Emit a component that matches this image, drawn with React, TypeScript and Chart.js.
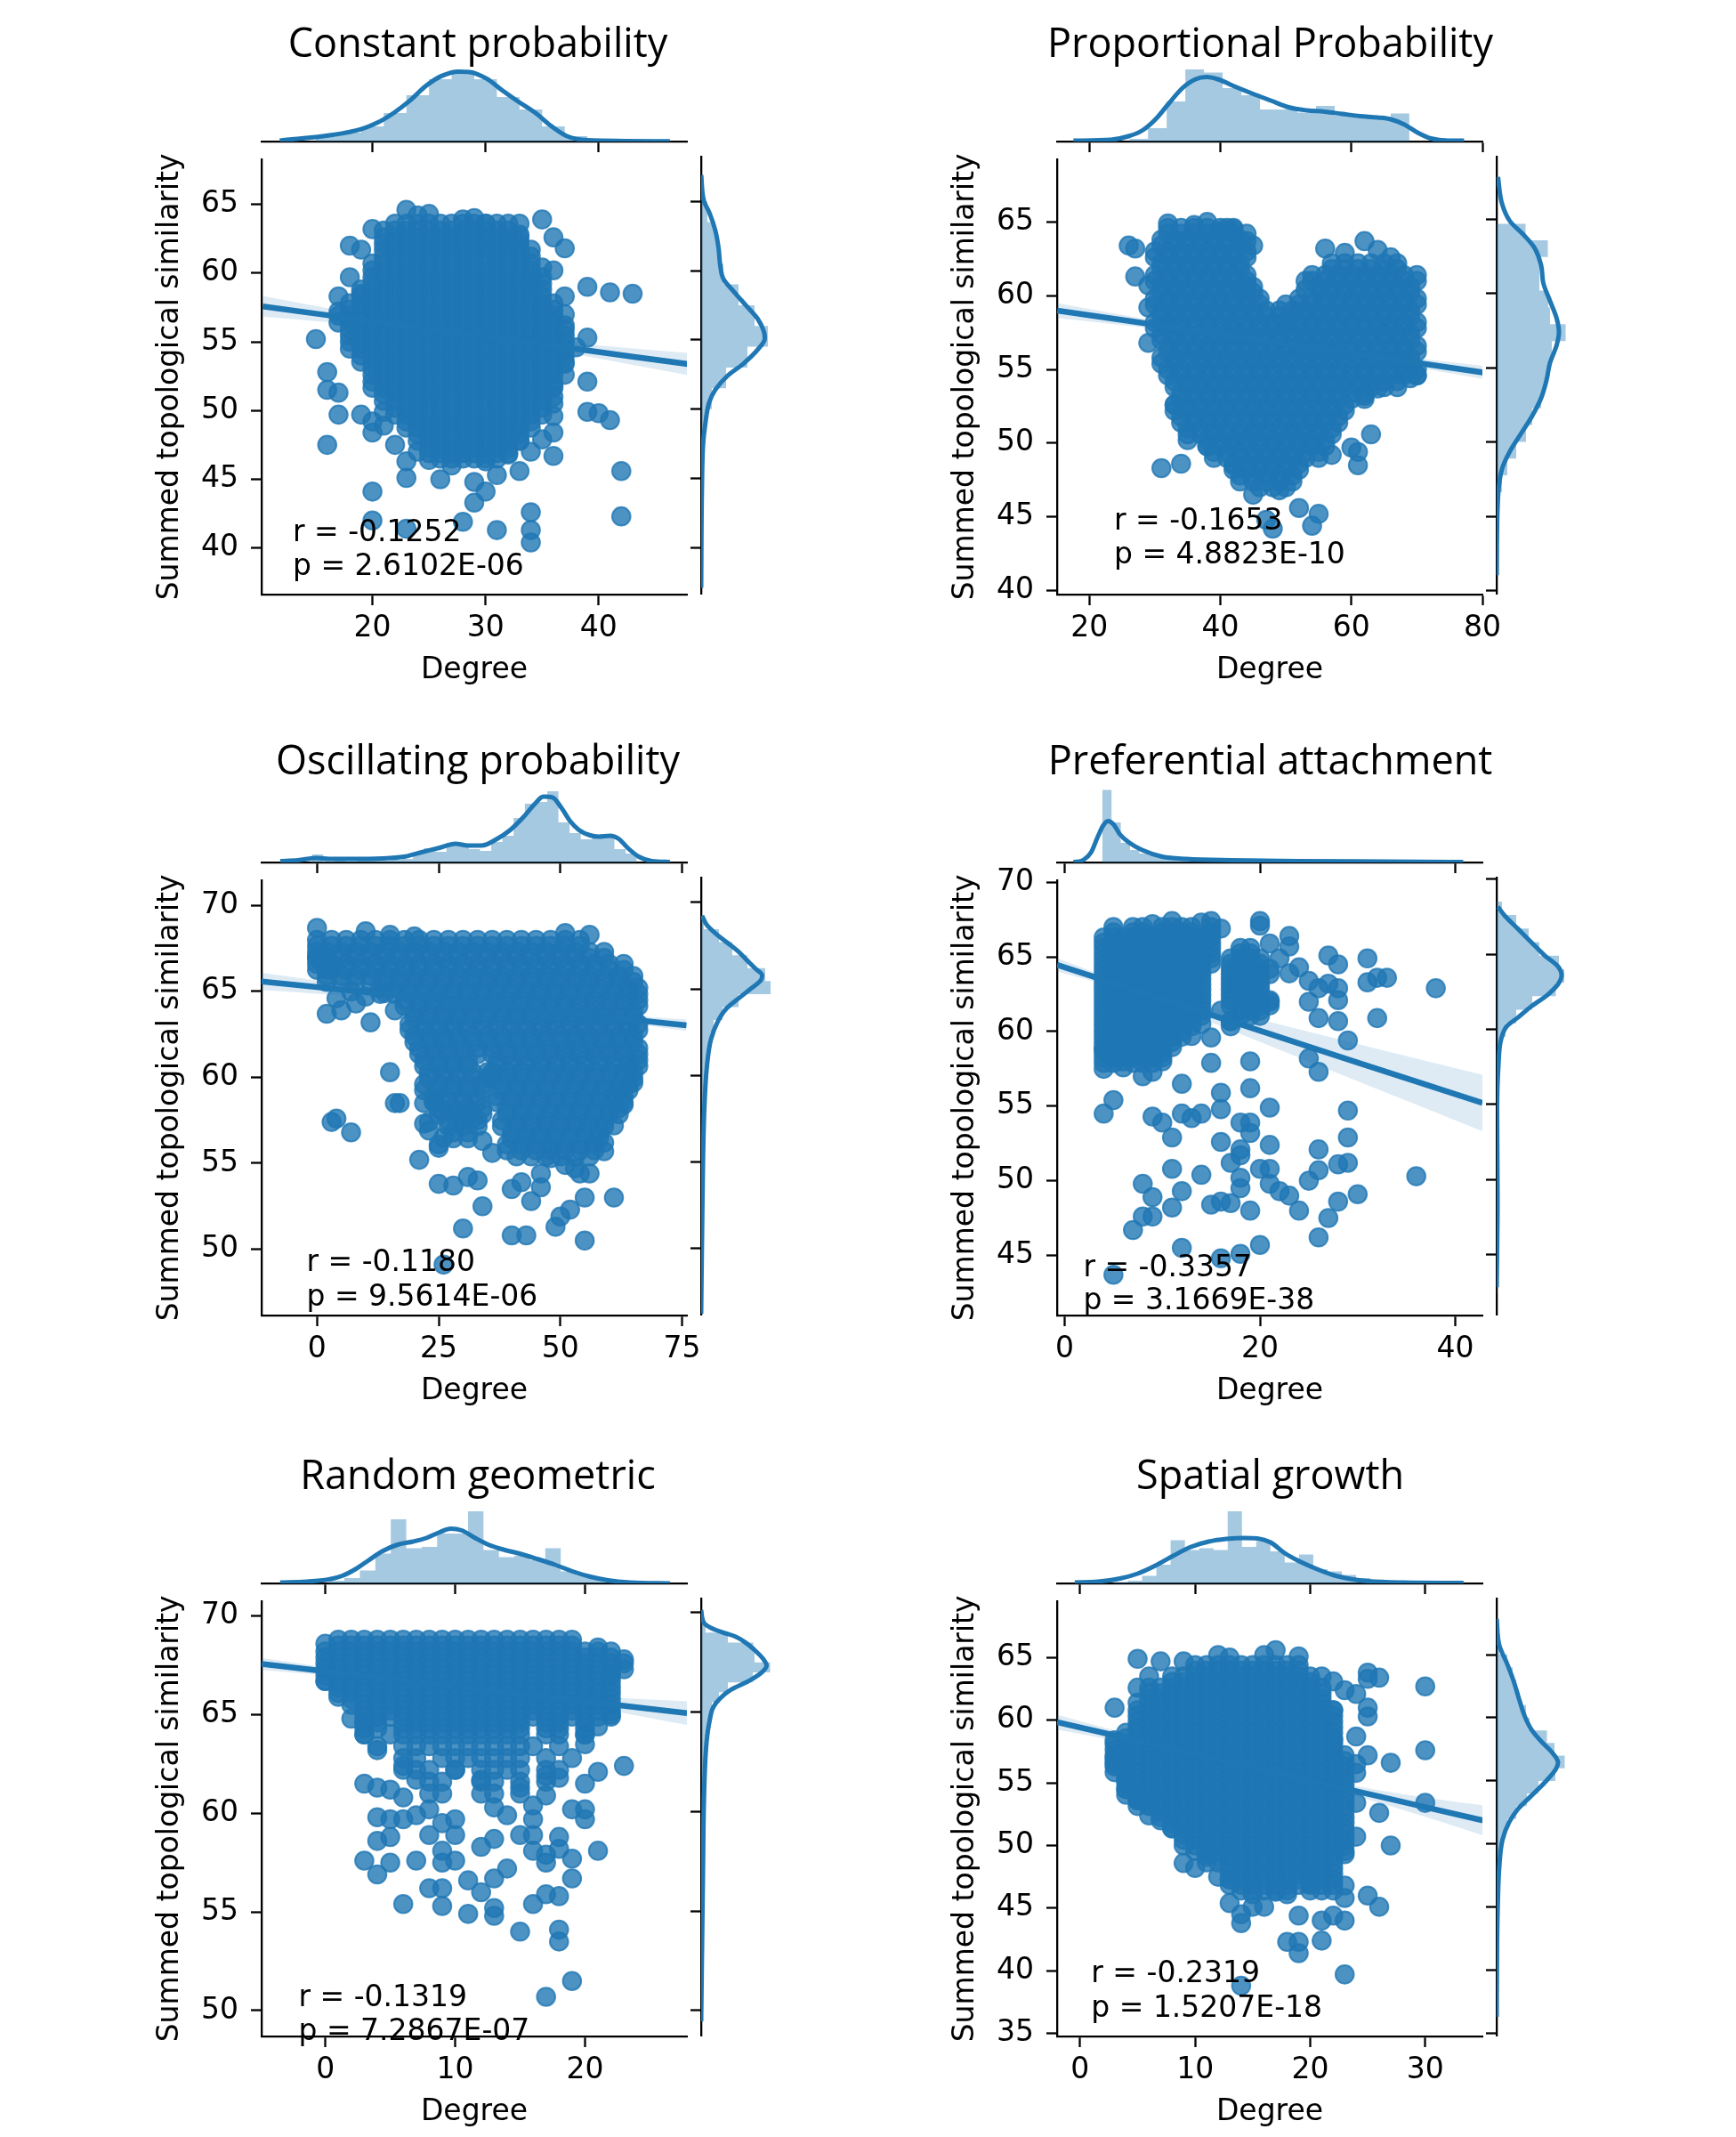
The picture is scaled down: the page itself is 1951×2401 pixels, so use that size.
import { useEffect, useRef } from "react"
import { Chart, registerables } from "chart.js"

Chart.register(...registerables)
Chart.defaults.color = "#000"

const BLUE = "#1f77b4"
const POINT = "rgba(31, 119, 180, 0.8)"
const HIST = "rgba(31, 119, 180, 0.4)"
const BAND = "rgba(31, 119, 180, 0.15)"

// dense parts of each cloud: [y values, degrees shared by those rows]
type Rows = [number[], number[]][]

// ---------------- Constant probability ----------------
const cpXTicks = [20, 30, 40]
const cpYTicks = [40, 45, 50, 55, 60, 65]
const cpRows: Rows = [
  [[63.6, 63.1], [22, 23, 24, 25, 26, 27, 28, 29, 30, 31, 32]],
  [[62.6, 62.15], [21, 22, 23, 24, 25, 26, 27, 28, 29, 30, 31, 32, 33]],
  [[61.7, 61.2], [21, 22, 23, 24, 25, 26, 27, 28, 29, 30, 31, 32, 33, 34]],
  [[60.7, 60.2], [20, 21, 22, 23, 24, 25, 26, 27, 28, 29, 30, 31, 32, 33, 34]],
  [[59.7, 59.25], [20, 21, 22, 23, 24, 25, 26, 27, 28, 29, 30, 31, 32, 33, 34, 35]],
  [[58.8, 58.3], [19, 20, 21, 22, 23, 24, 25, 26, 27, 28, 29, 30, 31, 32, 33, 34, 35]],
  [[57.8, 57.35], [18, 19, 20, 21, 22, 23, 24, 25, 26, 27, 28, 29, 30, 31, 32, 33, 34, 35, 36]],
  [[56.9, 56.4], [17, 18, 19, 20, 21, 22, 23, 24, 25, 26, 27, 28, 29, 30, 31, 32, 33, 34, 35, 36]],
  [[55.9, 55.45], [18, 19, 20, 21, 22, 23, 24, 25, 26, 27, 28, 29, 30, 31, 32, 33, 34, 35, 36, 37]],
  [[55.0, 54.5], [18, 19, 20, 21, 22, 23, 24, 25, 26, 27, 28, 29, 30, 31, 32, 33, 34, 35, 36, 37]],
  [[54.0, 53.55], [19, 20, 21, 22, 23, 24, 25, 26, 27, 28, 29, 30, 31, 32, 33, 34, 35, 36, 37]],
  [[53.1, 52.6], [20, 21, 22, 23, 24, 25, 26, 27, 28, 29, 30, 31, 32, 33, 34, 35, 36]],
  [[52.1, 51.65], [20, 21, 22, 23, 24, 25, 26, 27, 28, 29, 30, 31, 32, 33, 34, 35, 36]],
  [[51.2, 50.7], [21, 22, 23, 24, 25, 26, 27, 28, 29, 30, 31, 32, 33, 34, 35]],
  [[50.2, 49.7], [22, 23, 24, 25, 26, 27, 28, 29, 30, 31, 32, 33, 34, 35]],
  [[49.2, 48.75], [23, 24, 25, 26, 27, 28, 29, 30, 31, 32, 33, 34]],
  [[48.3, 47.8], [24, 25, 26, 27, 28, 29, 30, 31, 32, 33]],
  [[47.3, 46.9], [25, 26, 27, 28, 29, 30, 31, 32]],
  [[46.5], [26, 27, 28, 29, 30, 31]],
]
const cpExtra: [number, number][] = [
  [23, 64.6], [24, 64.2], [25, 64.3], [28, 63.9], [29, 64.0], [30, 63.6], [33, 63.6], [35, 63.9], [20, 63.2], [21, 63.1],
  [18, 62.0], [19, 61.7], [18, 59.7], [17, 58.3], [19, 58.5], [17, 57.2], [15, 55.2], [16, 52.8], [16, 51.5], [17, 51.3],
  [17, 49.7], [16, 47.5], [19, 49.7], [20, 49.2], [20, 48.4], [21, 49.9], [23, 46.3], [25, 46.4], [23, 45.1], [26, 45.0],
  [20, 44.1], [29, 44.8], [29, 43.3], [30, 44.1], [31, 45.3], [33, 45.6], [34, 42.6], [34, 41.3], [34, 40.4], [31, 41.3],
  [28, 41.9], [23, 41.4], [20, 42.0], [36, 46.7], [36, 48.4], [35, 47.9], [34, 47.0], [39, 59.0], [41, 58.6], [43, 58.5],
  [37, 58.3], [39, 55.3], [39, 52.1], [39, 49.9], [40, 49.8], [41, 49.3], [42, 45.6], [42, 42.3], [37, 61.8], [36, 62.6],
  [36, 60.2], [35, 60.4], [34, 59.4], [37, 53.4], [36, 51.8], [36, 50.5], [36, 49.6], [33, 62.8], [32, 62.3], [37, 57.0],
  [37, 56.2], [38, 54.6], [37, 52.6], [36, 51.0], [22, 47.5], [21, 48.9], [24, 47.0], [27, 46.0], [30, 46.3], [32, 46.8],
  [33, 47.8], [28, 47.0],
]
const cpRegX = [10.3, 15, 20, 25, 28, 32, 38, 43, 47.9]
const cpRegY = [57.58, 57.05, 56.49, 55.93, 55.6, 55.15, 54.48, 53.92, 53.38]
const cpCiLo = [56.83, 56.5, 56.14, 55.73, 55.43, 54.93, 54.08, 53.32, 52.58]
const cpCiHi = [58.33, 57.6, 56.84, 56.13, 55.77, 55.37, 54.88, 54.52, 54.18]
const cpTopEdges = [15, 17, 19, 21, 23, 25, 27, 29, 31, 33, 35, 37, 39, 41, 43]
const cpTopHeights = [6, 10, 17, 32, 52, 70, 77, 70, 50, 36, 17, 6, 3, 2]
const cpTopKdeX = [11.8, 16.5, 19.0, 20.4, 21.9, 23.3, 24.7, 26.1, 27.6, 28.6, 30.1, 31.5, 32.9, 34.4, 35.8, 37.2, 39.0, 46.3]
const cpTopKdeH = [1, 7.5, 13.9, 20.9, 32.3, 45.8, 62.2, 73.6, 78.6, 78.1, 70.6, 57.2, 44.8, 32.3, 17.4, 6.0, 1.5, 0.3]
const cpRightEdges = [39.5, 41, 42.5, 44, 45.5, 47, 48.5, 50, 51.5, 53, 54.5, 56, 57.5, 59, 60.5, 62, 63.5, 65]
const cpRightWidths = [1, 1, 1, 1.5, 2, 3, 6, 12, 28, 52, 75, 60, 42, 25, 20, 16, 7]
const cpRightKdeY = [37.1, 44.4, 47.6, 48.9, 50.5, 51.4, 52.4, 53.3, 54.3, 55.1, 55.6, 56.5, 57.5, 58.5, 59.4, 60.4, 61.6, 62.9, 64.2, 65, 66.9]
const cpRightKdeW = [0, 0.9, 2.3, 4.6, 9.1, 15.9, 29.6, 47.8, 63.7, 71.5, 70.5, 63.7, 50.1, 36.4, 25, 21.4, 19.6, 15.9, 9.1, 3.2, 0]

// ---------------- Proportional Probability ----------------
const ppXTicks = [20, 40, 60, 80]
const ppYTicks = [40, 45, 50, 55, 60, 65]
const ppRows: Rows = [
  [[64.6, 64.2], [32, 34, 36, 38, 40, 42]],
  [[63.8, 63.4], [31, 33, 35, 37, 39, 41, 43]],
  [[63.0, 62.6], [30, 32, 34, 36, 38, 40, 42, 44]],
  [[62.2, 61.8], [31, 33, 35, 37, 39, 41, 43, 57, 59, 61, 63, 65, 67]],
  [[61.4, 61.0], [30, 32, 34, 36, 38, 40, 42, 44, 54, 56, 58, 60, 62, 64, 66, 68, 70]],
  [[60.6, 60.2], [31, 33, 35, 37, 39, 41, 43, 45, 55, 57, 59, 61, 63, 65, 67, 69]],
  [[59.8, 59.4], [30, 32, 34, 36, 38, 40, 42, 44, 46, 52, 54, 56, 58, 60, 62, 64, 66, 68, 70]],
  [[59.0, 58.6], [31, 33, 35, 37, 39, 41, 43, 45, 47, 49, 51, 53, 55, 57, 59, 61, 63, 65, 67, 69]],
  [[58.2, 57.8], [30, 32, 34, 36, 38, 40, 42, 44, 46, 48, 50, 52, 54, 56, 58, 60, 62, 64, 66, 68, 70]],
  [[57.4, 57.0], [31, 33, 35, 37, 39, 41, 43, 45, 47, 49, 51, 53, 55, 57, 59, 61, 63, 65, 67, 69]],
  [[56.6, 56.2], [32, 34, 36, 38, 40, 42, 44, 46, 48, 50, 52, 54, 56, 58, 60, 62, 64, 66, 68, 70]],
  [[55.8, 55.4], [31, 33, 35, 37, 39, 41, 43, 45, 47, 49, 51, 53, 55, 57, 59, 61, 63, 65, 67, 69]],
  [[55.0, 54.6], [32, 34, 36, 38, 40, 42, 44, 46, 48, 50, 52, 54, 56, 58, 60, 62, 64, 66, 68, 70]],
  [[54.2, 53.8], [33, 35, 37, 39, 41, 43, 45, 47, 49, 51, 53, 55, 57, 59, 61, 63, 65, 67]],
  [[53.4, 53.0], [34, 36, 38, 40, 42, 44, 46, 48, 50, 52, 54, 56, 58, 60, 62]],
  [[52.6, 52.2], [33, 35, 37, 39, 41, 43, 45, 47, 49, 51, 53, 55, 57, 59]],
  [[51.8, 51.4], [34, 36, 38, 40, 42, 44, 46, 48, 50, 52, 54, 56, 58]],
  [[51.0, 50.6], [35, 37, 39, 41, 43, 45, 47, 49, 51, 53, 55, 57]],
  [[50.2, 49.8], [38, 40, 42, 44, 46, 48, 50, 52, 54, 56]],
  [[49.4, 49.0], [39, 41, 43, 45, 47, 49, 51, 53, 55]],
  [[48.6, 48.2], [42, 44, 46, 48, 50, 52]],
  [[47.8, 47.4], [43, 45, 47, 49, 51]],
  [[47.0], [46, 48, 50]],
]
const ppExtra: [number, number][] = [
  [26, 63.4], [27, 63.2], [27, 61.3], [29, 60.7], [29, 59.2], [29, 56.8], [33, 52.6], [35, 50.2], [34, 48.6], [31, 48.3],
  [38, 49.8], [42, 48.5], [45, 46.5], [47, 44.8], [48, 44.2], [52, 45.6], [55, 45.2], [54, 44.4], [49, 46.8], [42, 64.5],
  [45, 63.4], [44, 63.7], [44, 60.7], [50, 59.4], [50, 58.3], [56, 63.2], [59, 62.9], [62, 63.7], [64, 63.1], [66, 62.6],
  [53, 61.0], [53, 60.4], [64, 53.7], [62, 53.2], [63, 50.6], [61, 49.4], [61, 48.5], [57, 49.2], [60, 49.7], [69, 54.4],
  [70, 54.6], [32, 64.9], [36, 64.8], [41, 64.6], [38, 65.0], [40, 64.4], [44, 64.2],
]
const ppRegX = [15.1, 25, 35, 45, 55, 65, 75, 80.1]
const ppRegY = [58.99, 58.35, 57.7, 57.06, 56.41, 55.77, 55.12, 54.79]
const ppCiLo = [58.49, 58.0, 57.5, 56.94, 56.26, 55.52, 54.74, 54.34]
const ppCiHi = [59.49, 58.7, 57.9, 57.18, 56.56, 56.02, 55.5, 55.24]
const ppTopEdges = [26.1, 28.95, 31.8, 34.65, 37.5, 40.35, 43.2, 46.05, 48.9, 51.75, 54.6, 57.45, 60.3, 63.15, 66.0, 68.85]
const ppTopHeights = [3, 15, 45, 81, 77.5, 60, 52, 36, 36, 32.5, 40, 29, 28, 27, 31.5]
const ppTopKdeX = [17.56, 23.3, 26.0, 28.1, 30.1, 32.1, 34.2, 36.2, 37.9, 39.6, 42.3, 45.0, 47.7, 50.4, 53.2, 55.9, 58.6, 61.3, 64.0, 66.0, 68.1, 70.1, 72.1, 74.8, 77.2]
const ppTopKdeH = [1, 2, 6, 12.5, 25, 42.5, 60, 70, 72.5, 70, 61.5, 53.5, 46, 38.5, 35, 33.5, 31, 28.5, 27, 25, 19, 10, 3.5, 1, 1]
const ppRightEdges = [44.36, 45.49, 46.62, 47.75, 48.88, 50.01, 51.14, 52.27, 53.4, 54.53, 55.66, 56.79, 57.92, 59.05, 60.18, 61.31, 62.44, 63.57, 64.7]
const ppRightWidths = [1.5, 3, 6, 12, 22, 33, 40, 50, 55, 60, 62, 77.5, 60, 58, 48, 48, 57.5, 32.5]
const ppRightKdeY = [41.04, 45.5, 46.99, 48.18, 49.38, 50.57, 51.76, 52.95, 54.14, 55.33, 56.52, 57.41, 58.3, 59.49, 60.68, 61.88, 63.07, 63.96, 64.85, 66.04, 67.83]
const ppRightKdeW = [0, 1, 2.5, 6, 15, 27.5, 40, 50, 56, 60, 67.5, 70, 67.5, 60, 52.5, 50, 42.5, 30, 15, 6, 1.5]

// ---------------- Oscillating probability ----------------
const opXTicks = [0, 25, 50, 75]
const opYTicks = [50, 55, 60, 65, 70]
const opRows: Rows = [
  [[68.0, 67.65], [0, 3, 6, 9, 12, 15, 18, 21, 24, 27, 30, 33, 36, 39, 42, 45, 48, 51, 54]],
  [[67.3, 66.95], [0, 2, 5, 8, 11, 14, 17, 20, 23, 26, 29, 32, 35, 38, 41, 44, 47, 50, 53, 56, 59]],
  [[66.6, 66.25], [0, 3, 6, 9, 12, 15, 18, 21, 24, 27, 30, 33, 36, 39, 42, 45, 48, 51, 54, 57, 60, 63]],
  [[65.9, 65.55], [2, 5, 8, 11, 14, 17, 20, 23, 26, 29, 32, 35, 38, 41, 44, 47, 50, 53, 56, 59, 62, 65]],
  [[65.2, 64.85], [13, 16, 19, 22, 25, 28, 31, 34, 37, 40, 43, 46, 49, 52, 55, 58, 61, 64, 66]],
  [[64.5, 64.15], [18, 21, 24, 27, 30, 33, 36, 39, 42, 45, 48, 51, 54, 57, 60, 63, 66]],
  [[63.8, 63.45], [20, 23, 26, 29, 32, 35, 38, 41, 44, 47, 50, 53, 56, 59, 62, 65]],
  [[63.1, 62.75], [19, 22, 25, 28, 31, 34, 37, 40, 43, 46, 49, 52, 55, 58, 61, 64, 66]],
  [[62.4, 62.05], [20, 23, 26, 29, 32, 35, 38, 41, 44, 47, 50, 53, 56, 59, 62, 65]],
  [[61.7, 61.35], [21, 24, 27, 30, 33, 36, 39, 42, 45, 48, 51, 54, 57, 60, 63, 66]],
  [[61.0, 60.65], [22, 25, 28, 31, 37, 40, 43, 46, 49, 52, 55, 58, 61, 64, 66]],
  [[60.3, 59.95], [23, 26, 29, 32, 35, 36, 39, 42, 45, 48, 51, 54, 57, 60, 63, 65]],
  [[59.6, 59.25], [22, 25, 28, 31, 34, 38, 41, 44, 47, 50, 53, 56, 59, 62, 64]],
  [[58.9, 58.55], [24, 27, 30, 33, 37, 40, 43, 46, 49, 52, 55, 58, 61, 63]],
  [[58.2, 57.85], [25, 28, 31, 34, 39, 42, 45, 48, 51, 54, 57, 60, 62]],
  [[57.5, 57.15], [27, 30, 33, 38, 41, 44, 47, 50, 53, 56, 59]],
  [[56.8, 56.45], [28, 31, 40, 43, 46, 49, 52, 55, 58]],
  [[56.1, 55.75], [39, 42, 45, 48, 51, 54, 57]],
  [[55.4], [41, 44, 47, 50, 53, 56]],
]
const opExtra: [number, number][] = [
  [15, 60.3], [16, 58.5], [17, 58.5], [3, 57.4], [4, 57.6], [7, 56.8], [2, 63.7], [5, 63.9], [8, 64.3], [11, 63.2],
  [14, 64.9], [16, 63.9], [21, 55.2], [25, 55.9], [25, 53.8], [28, 53.7], [31, 54.2], [33, 54.0], [34, 52.5], [30, 51.2],
  [40, 53.5], [42, 53.9], [44, 52.8], [46, 53.6], [40, 50.8], [43, 50.8], [49, 51.3], [50, 51.9], [52, 52.3], [55, 53.0],
  [61, 53.0], [55, 50.5], [26, 49.1], [51, 68.4], [56, 68.3], [54, 54.4], [56, 54.4], [59, 55.7], [59, 56.2], [65, 59.7],
  [63, 58.4], [61, 57.2], [30, 57.7], [32, 57.6], [34, 56.3], [36, 55.6], [23, 57.4], [26, 56.5], [46, 54.4], [48, 55.3],
  [51, 54.9], [53, 54.7], [0, 68.7], [0, 67.0], [1, 66.7], [10, 68.5], [15, 68.3], [20, 68.2], [2, 66.3], [24, 58.6],
  [26, 58.0], [4, 64.6], [7, 65.0], [10, 64.7], [22, 58.5], [22, 57.3], [25, 56.1], [23, 56.9],
]
const opRegX = [-11.4, 0, 15, 30, 45, 60, 75.9]
const opRegY = [65.58, 65.25, 64.81, 64.37, 63.93, 63.49, 63.03]
const opCiLo = [65.08, 64.87, 64.59, 64.25, 63.83, 63.31, 62.7]
const opCiHi = [66.08, 65.63, 65.03, 64.49, 64.03, 63.67, 63.36]
const opTopEdges = [-1.0, 1.3, 3.6, 5.9, 8.2, 10.5, 12.8, 15.1, 17.4, 19.7, 22.0, 24.3, 26.6, 28.9, 31.2, 33.5, 35.8, 38.1, 40.4, 42.7, 45.0, 47.3, 49.6, 51.9, 54.2, 56.5, 58.8, 61.1, 63.4, 65.7]
const opTopHeights = [9, 1, 2, 1, 2, 2, 2, 3, 4, 10, 16, 12, 22, 20, 15, 13, 23, 30, 50, 66, 68, 80, 45, 33, 26, 29, 29, 15, 10]
const opTopKdeX = [-7.55, -3.9, 0, 2.45, 7, 13.4, 17.9, 21.5, 25.2, 28.4, 31.1, 33.8, 37, 39.7, 42.5, 44.7, 46.5, 48.4, 50.2, 52, 53.8, 56.1, 57.9, 60.2, 62, 63.8, 66.1, 68.8, 72.5]
const opTopKdeH = [1.5, 2.5, 5, 4, 4, 4.5, 6.5, 11.5, 16.5, 21, 19, 19, 26.5, 36.5, 51.5, 65.5, 74, 73, 61.5, 46.5, 36.5, 30.5, 29, 30, 26.5, 16.5, 6.5, 1.5, 0.5]
const opRightEdges = [48.95, 49.7, 50.45, 51.2, 51.95, 52.7, 53.45, 54.2, 54.95, 55.7, 56.45, 57.2, 57.95, 58.7, 59.45, 60.2, 60.95, 61.7, 62.45, 63.2, 63.95, 64.7, 65.45, 66.2, 66.95, 67.7, 68.45, 69.2]
const opRightWidths = [0.5, 0.5, 1, 1, 1, 1, 1, 1.5, 2, 2, 2.5, 3, 4, 4, 5, 6, 8, 10, 14, 24, 42, 78, 72, 52, 35, 20, 3]
const opRightKdeY = [46.25, 52.89, 58.0, 60.55, 62.08, 63.1, 63.87, 64.51, 65.02, 65.53, 65.79, 66.17, 66.68, 67.19, 67.7, 68.21, 68.72, 69.23]
const opRightKdeW = [0, 1.5, 3.5, 6.5, 11, 18.5, 28.5, 43.5, 56, 67.5, 68.5, 61, 51, 41, 28.5, 16, 6, 1]

// ---------------- Preferential attachment ----------------
const paXTicks = [0, 20, 40]
const paYTicks = [45, 50, 55, 60, 65, 70]
const paRows: Rows = [
  [[67.0, 66.65], [5, 7, 8, 10, 11, 12, 13, 15]],
  [[66.3, 65.95], [4, 5, 6, 7, 8, 9, 10, 11, 12, 13, 14, 15]],
  [[65.6, 65.25], [4, 5, 6, 7, 8, 9, 10, 11, 12, 13, 14, 15, 18, 19]],
  [[64.9, 64.55], [4, 5, 6, 7, 8, 9, 10, 11, 12, 13, 14, 15, 17, 18, 19, 20]],
  [[64.2, 63.85], [4, 5, 6, 7, 8, 9, 10, 11, 12, 13, 14, 17, 18, 19, 20, 21]],
  [[63.5, 63.15], [4, 5, 6, 7, 8, 9, 10, 11, 12, 13, 14, 17, 18, 19, 20]],
  [[62.8, 62.45], [4, 5, 6, 7, 8, 9, 10, 11, 12, 13, 14, 17, 18, 19, 20]],
  [[62.1, 61.75], [4, 5, 6, 7, 8, 9, 10, 11, 12, 13, 14, 17, 18, 19, 20, 21]],
  [[61.4, 61.05], [4, 5, 6, 7, 8, 9, 10, 11, 12, 13, 14, 18, 19, 20]],
  [[60.7, 60.35], [4, 5, 6, 7, 8, 9, 10, 11, 12, 13, 17]],
  [[60.0, 59.65], [4, 5, 6, 7, 8, 9, 10, 11, 12]],
  [[59.3, 58.95], [4, 5, 6, 7, 8, 9, 10, 11]],
  [[58.6, 58.25], [4, 5, 6, 7, 8, 9, 10]],
  [[57.9], [4, 5, 7, 8, 9]],
]
const paExtra: [number, number][] = [
  [4, 54.5], [5, 55.4], [4, 57.5], [7, 46.7], [8, 49.8], [8, 47.6], [9, 47.6], [9, 48.9], [9, 54.3], [10, 53.9],
  [11, 52.9], [11, 50.8], [12, 49.3], [11, 48.2], [12, 45.5], [12, 54.5], [13, 54.2], [14, 54.5], [14, 50.4], [15, 48.4],
  [16, 44.8], [18, 45.1], [20, 45.7], [15, 59.6], [15, 57.9], [16, 55.9], [16, 54.8], [16, 52.6], [17, 51.2], [18, 52.1],
  [18, 51.7], [19, 58.0], [19, 56.2], [19, 53.9], [19, 53.2], [18, 53.9], [18, 50.2], [17, 48.5], [16, 48.6], [19, 48.0],
  [18, 49.5], [20, 50.8], [21, 50.8], [21, 49.8], [21, 52.4], [21, 54.9], [22, 49.3], [23, 49.0], [24, 48.0], [25, 50.0],
  [26, 50.7], [26, 52.1], [26, 46.2], [27, 47.5], [28, 48.6], [28, 51.1], [29, 51.2], [29, 52.9], [29, 54.7], [30, 49.1],
  [36, 50.3], [26, 60.9], [28, 60.7], [29, 59.4], [25, 58.2], [26, 57.3], [27, 65.1], [28, 64.5], [31, 64.9], [31, 63.3],
  [32, 63.6], [33, 63.6], [38, 62.9], [32, 60.9], [27, 63.2], [28, 62.1], [28, 62.9], [25, 63.4], [24, 64.3], [23, 63.9],
  [21, 62.0], [23, 65.7], [23, 66.4], [22, 64.9], [20, 67.1], [20, 67.4], [21, 65.9], [25, 62.0], [26, 62.9], [5, 43.7],
  [9, 57.3], [10, 58.0], [8, 57.0], [6, 58.0], [12, 56.5], [13, 59.7], [14, 60.5], [16, 61.4], [17, 60.7], [4, 58.8],
  [6, 57.6], [15, 67.4], [16, 66.9], [14, 67.3], [11, 67.4], [9, 67.2],
]
const paRegX = [-0.77, 5, 8, 12, 18, 24, 30, 36, 42.77]
const paRegY = [64.47, 63.24, 62.6, 61.75, 60.48, 59.2, 57.92, 56.65, 55.21]
const paCiLo = [64.02, 62.99, 62.4, 61.4, 59.83, 58.25, 56.67, 55.1, 53.31]
const paCiHi = [64.92, 63.49, 62.8, 62.1, 61.13, 60.15, 59.17, 58.2, 57.11]
const paTopEdges = [3.85, 4.8, 5.75, 6.7, 7.65, 8.6, 9.55, 10.5, 11.45, 12.4, 13.35, 14.3, 15.25, 16.2, 17.15, 18.1, 19.05, 20.0, 20.95, 21.9, 22.85, 23.8, 24.75, 25.7, 26.65, 27.6, 28.55, 29.5, 30.45, 31.4, 32.35, 33.3, 34.25, 35.2, 36.15, 37.1, 38.05]
const paTopHeights = [81.5, 45, 22, 14, 10, 8, 7, 3, 2, 2, 2, 1.5, 1.5, 1.5, 1, 1.5, 1, 1, 1, 1, 0.8, 0.8, 0.6, 0.6, 0.6, 0.6, 0.5, 0.5, 0.3, 0.3, 0.2, 0.2, 0.2, 0.1, 0.1, 0.1]
const paTopKdeX = [0.91, 1.95, 2.72, 3.4, 3.95, 4.44, 4.99, 5.67, 6.58, 7.94, 9.98, 12.47, 17.0, 23.8, 32.9, 40.8]
const paTopKdeH = [0, 3, 11.5, 29, 41.5, 46.5, 43, 31.5, 22.5, 14, 6.5, 4, 2.5, 1.5, 1, 0.5]
const paRightEdges = [42.4, 43.3, 44.2, 45.1, 46.0, 46.9, 47.8, 48.7, 49.6, 50.5, 51.4, 52.3, 53.2, 54.1, 55.0, 55.9, 56.8, 57.7, 58.6, 59.5, 60.4, 61.3, 62.2, 63.1, 64.0, 64.9, 65.8, 66.7, 67.6, 68.5]
const paRightWidths = [0.5, 0.5, 0.5, 1, 1, 1.5, 1.5, 2, 2, 2, 1.5, 1.5, 1.5, 1.5, 1.5, 1.5, 2, 2, 4, 10, 22, 40, 66.5, 76, 70, 48, 36, 22, 6]
const paRightKdeY = [42.85, 48.74, 54.62, 57.56, 59.32, 60.21, 60.79, 61.53, 62.26, 63.0, 63.59, 64.18, 64.91, 65.79, 66.68, 67.56, 68.15]
const paRightKdeW = [0, 1, 0.5, 2, 5, 11.5, 24, 39, 56.5, 69, 73, 69, 54, 39, 24, 9, 1.5]

// ---------------- Random geometric ----------------
const rgXTicks = [0, 10, 20]
const rgYTicks = [50, 55, 60, 65, 70]
const rgRows: Rows = [
  [[68.8, 68.5], [1, 2, 3, 4, 5, 6, 7, 8, 9, 10, 11, 12, 13, 14, 15, 16, 17, 18, 19]],
  [[68.2, 67.9], [0, 1, 2, 3, 4, 5, 6, 7, 8, 9, 10, 11, 12, 13, 14, 15, 16, 17, 18, 19, 20, 21, 22]],
  [[67.6, 67.3], [0, 1, 2, 3, 4, 5, 6, 7, 8, 9, 10, 11, 12, 13, 14, 15, 16, 17, 18, 19, 20, 21, 22, 23]],
  [[67.0, 66.7], [0, 1, 2, 3, 4, 5, 6, 7, 8, 9, 10, 11, 12, 13, 14, 15, 16, 17, 18, 19, 20, 21, 22]],
  [[66.4, 66.1], [1, 2, 3, 4, 5, 6, 7, 8, 9, 10, 11, 12, 13, 14, 15, 16, 17, 18, 19, 20, 21, 22]],
  [[65.8, 65.5], [2, 3, 4, 5, 6, 7, 8, 9, 10, 11, 12, 13, 14, 15, 16, 17, 18, 19, 20, 21, 22]],
  [[65.2, 64.9], [3, 4, 5, 6, 7, 8, 9, 10, 11, 12, 13, 14, 15, 16, 17, 18, 19, 20, 21, 22]],
  [[64.6, 64.3], [3, 4, 6, 7, 8, 9, 10, 11, 12, 13, 14, 15, 17, 18, 20]],
  [[64.0], [3, 5, 6, 7, 8, 9, 10, 11, 12, 13, 14, 15, 17, 18, 20]],
  [[63.4], [4, 6, 7, 8, 9, 10, 11, 12, 13, 14, 15, 16, 18]],
  [[62.8], [6, 7, 9, 10, 11, 12, 13, 14, 15, 17]],
  [[62.2], [6, 7, 8, 10, 12, 13, 14, 15, 17, 18]],
  [[61.6], [8, 9, 12, 13, 15, 17]],
  [[61.0], [8, 9, 12, 13, 15]],
]
const rgExtra: [number, number][] = [
  [3, 61.5], [4, 61.3], [5, 61.2], [6, 60.8], [4, 59.8], [5, 59.7], [6, 59.7], [7, 59.9], [4, 58.6], [5, 58.8],
  [3, 57.6], [4, 56.9], [5, 57.5], [7, 57.6], [8, 56.2], [9, 56.2], [9, 55.3], [6, 55.4], [9, 57.5], [10, 57.6],
  [10, 58.9], [10, 59.7], [8, 58.9], [9, 58.1], [11, 56.6], [12, 56.0], [13, 55.2], [13, 54.8], [11, 54.9], [12, 58.3],
  [13, 58.7], [14, 57.2], [15, 54.0], [13, 56.7], [16, 58.1], [16, 58.9], [16, 59.7], [15, 58.9], [17, 57.9], [17, 57.5],
  [18, 58.8], [18, 58.2], [19, 57.7], [19, 56.7], [16, 55.4], [17, 55.9], [18, 55.8], [18, 54.1], [18, 53.5], [19, 51.5],
  [17, 50.7], [21, 58.1], [20, 59.7], [20, 60.2], [19, 60.2], [20, 61.5], [21, 62.1], [23, 62.4], [17, 60.9], [16, 60.4],
  [13, 60.3], [14, 59.9], [8, 60.2], [9, 59.5], [12, 61.7], [15, 61.3], [17, 61.9], [18, 61.8], [10, 62.2], [6, 62.4],
  [7, 61.7], [4, 63.2], [3, 64.0], [3, 64.6], [22, 65.0], [22, 67.0], [23, 67.8], [21, 68.4], [0, 66.7], [0, 68.6],
  [1, 65.9], [20, 63.5], [20, 64.0], [21, 64.4], [19, 62.8], [2, 64.8],
]
const rgRegX = [-4.91, 0, 5, 10, 15, 20, 27.85]
const rgRegY = [67.57, 67.2, 66.82, 66.44, 66.06, 65.68, 65.08]
const rgCiLo = [67.27, 67.0, 66.7, 66.36, 65.94, 65.43, 64.48]
const rgCiHi = [67.87, 67.4, 66.94, 66.52, 66.18, 65.93, 65.68]
const rgTopEdges = [0.28, 1.47, 2.66, 3.85, 5.04, 6.23, 7.42, 8.61, 9.8, 10.99, 12.18, 13.37, 14.56, 15.75, 16.94, 18.13, 19.32, 20.51, 21.7, 22.89]
const rgTopHeights = [3, 6, 14.5, 33.5, 72, 39.5, 41, 56, 56, 81, 37.5, 29.5, 31, 26, 39.5, 13.5, 9.5, 6, 3.5]
const rgTopKdeX = [-3.48, -1.43, 0.27, 1.3, 2.32, 3.34, 4.37, 5.56, 6.76, 7.78, 8.81, 9.66, 10.51, 11.54, 12.56, 13.58, 14.95, 16.31, 17.68, 19.04, 20.41, 21.77, 23.48, 26.55]
const rgTopKdeH = [1, 2, 4.5, 8.5, 16, 26, 36, 43.5, 47, 51, 57.5, 61.5, 59.5, 51, 43.5, 38.5, 33.5, 27.5, 21, 13.5, 7.5, 3.5, 1, 0]
const rgRightEdges = [50, 50.5, 51, 51.5, 52, 52.5, 53, 53.5, 54, 54.5, 55, 55.5, 56, 56.5, 57, 57.5, 58, 58.5, 59, 59.5, 60, 60.5, 61, 61.5, 62, 62.5, 63, 63.5, 64, 64.5, 65, 65.5, 66, 66.5, 67, 67.5, 68, 68.5, 69, 69.5]
const rgRightWidths = [0.3, 0.5, 0.5, 0.6, 0.6, 0.8, 0.8, 1, 1, 1, 1.2, 1.2, 1.5, 1.5, 1.5, 2, 2, 2, 2.5, 2.5, 3, 3, 3.5, 3.5, 4, 4, 5, 6, 8, 9, 12, 20, 30, 58, 77.5, 60, 58.5, 30, 5]
const rgRightKdeY = [49.44, 56.79, 61.23, 63.46, 64.57, 65.24, 65.68, 66.13, 66.57, 67.02, 67.35, 67.69, 68.02, 68.46, 68.8, 69.02, 69.24, 69.47, 70.13]
const rgRightKdeW = [0, 2, 3.5, 6, 9.5, 13.5, 21, 33.5, 53.5, 68.5, 73.5, 69.5, 62.5, 51, 38.5, 23.5, 11, 3.5, 0]

// ---------------- Spatial growth ----------------
const sgXTicks = [0, 10, 20, 30]
const sgYTicks = [35, 40, 45, 50, 55, 60, 65]
const sgRows: Rows = [
  [[64.4, 63.95], [10, 11, 12, 13, 14, 15, 16, 17, 18, 19]],
  [[63.5, 63.05], [8, 9, 10, 11, 12, 13, 14, 15, 16, 17, 18, 19, 20]],
  [[62.6, 62.15], [6, 7, 8, 9, 10, 11, 12, 13, 14, 15, 16, 17, 18, 19, 20, 21]],
  [[61.7, 61.25], [6, 7, 8, 9, 10, 11, 12, 13, 14, 15, 16, 17, 18, 19, 20, 21]],
  [[60.8, 60.35], [5, 6, 7, 8, 9, 10, 11, 12, 13, 14, 15, 16, 17, 18, 19, 20, 21, 22]],
  [[59.9, 59.45], [5, 6, 7, 8, 9, 10, 11, 12, 13, 14, 15, 16, 17, 18, 19, 20, 21, 22]],
  [[59.0, 58.55], [4, 5, 6, 7, 8, 9, 10, 11, 12, 13, 14, 15, 16, 17, 18, 19, 20, 21, 22]],
  [[58.1, 57.65], [3, 4, 5, 6, 7, 8, 9, 10, 11, 12, 13, 14, 15, 16, 17, 18, 19, 20, 21, 22]],
  [[57.2, 56.75], [3, 4, 5, 6, 7, 8, 9, 10, 11, 12, 13, 14, 15, 16, 17, 18, 19, 20, 21, 22, 23]],
  [[56.3, 55.85], [3, 4, 5, 6, 7, 8, 9, 10, 11, 12, 13, 14, 15, 16, 17, 18, 19, 20, 21, 22, 23]],
  [[55.4, 54.95], [4, 5, 6, 7, 8, 9, 10, 11, 12, 13, 14, 15, 16, 17, 18, 19, 20, 21, 22, 23]],
  [[54.5, 54.05], [4, 5, 6, 7, 8, 9, 10, 11, 12, 13, 14, 15, 16, 17, 18, 19, 20, 21, 22, 23]],
  [[53.6, 53.15], [5, 6, 7, 8, 9, 10, 11, 12, 13, 14, 15, 16, 17, 18, 19, 20, 21, 22, 23]],
  [[52.7, 52.25], [7, 8, 9, 10, 11, 12, 13, 14, 15, 16, 17, 18, 19, 20, 21, 22, 23]],
  [[51.8, 51.35], [8, 9, 10, 11, 12, 13, 14, 15, 16, 17, 18, 19, 20, 21, 22, 23]],
  [[50.9, 50.45], [9, 10, 11, 12, 13, 14, 15, 16, 17, 18, 19, 20, 21, 22, 23]],
  [[50.0, 49.55], [10, 11, 12, 13, 14, 15, 16, 17, 18, 19, 20, 21, 22, 23]],
  [[49.1, 48.65], [11, 12, 13, 14, 15, 16, 17, 18, 19, 20, 21, 22]],
  [[48.2, 47.75], [13, 14, 15, 16, 17, 18, 19, 20, 21, 22]],
  [[47.3, 46.85], [13, 14, 15, 16, 17, 18, 19, 20, 21, 22]],
  [[46.4], [14, 15, 16, 17, 18, 20, 21, 22]],
]
const sgExtra: [number, number][] = [
  [5, 64.9], [7, 64.7], [9, 64.7], [3, 61.0], [5, 62.6], [5, 61.4], [6, 63.5], [6, 52.4], [4, 54.5], [5, 53.6],
  [9, 48.6], [9, 50.0], [11, 49.3], [13, 47.3], [13, 45.4], [14, 44.5], [14, 43.8], [15, 46.1], [15, 45.1], [16, 45.1],
  [17, 46.3], [18, 46.1], [19, 44.4], [18, 42.3], [19, 42.3], [19, 41.4], [21, 42.4], [21, 44.0], [22, 44.4], [23, 44.0],
  [23, 45.8], [23, 46.8], [25, 46.0], [26, 45.1], [23, 39.7], [14, 38.8], [25, 63.8], [26, 63.4], [25, 63.3], [30, 62.7],
  [25, 61.0], [25, 60.3], [24, 62.1], [23, 62.4], [22, 60.8], [24, 58.7], [25, 57.2], [27, 56.6], [30, 57.6], [26, 52.6],
  [27, 50.0], [30, 53.4], [24, 55.8], [24, 56.5], [22, 58.4], [21, 60.8], [19, 65.1], [17, 65.6], [16, 65.2], [12, 65.2],
  [13, 65.0], [21, 63.5], [22, 63.1], [3, 57.0], [3, 58.4], [3, 56.5], [4, 57.3], [4, 55.2], [5, 53.8], [6, 53.2],
  [24, 53.4], [24, 50.7], [23, 49.3], [20, 47.0], [12, 47.5], [10, 48.2], [8, 51.4], [7, 52.0],
]
const sgRegX = [-2, 4, 8, 12, 16, 20, 26, 31, 35]
const sgRegY = [59.85, 58.58, 57.73, 56.88, 56.03, 55.18, 53.91, 52.85, 52.0]
const sgCiLo = [59.25, 58.23, 57.53, 56.73, 55.88, 54.93, 53.41, 52.0, 50.8]
const sgCiHi = [60.45, 58.93, 57.93, 57.03, 56.18, 55.43, 54.41, 53.7, 53.2]
const sgTopEdges = [2.91, 4.15, 5.39, 6.63, 7.87, 9.11, 10.35, 11.59, 12.83, 14.07, 15.31, 16.55, 17.79, 19.03, 20.27, 21.51, 22.75, 23.99, 25.23, 26.47, 27.71, 28.95, 30.19]
const sgTopHeights = [1.5, 3, 8.5, 21, 48.5, 37.5, 39.5, 37.5, 81, 41, 47.5, 36, 23.5, 32.5, 16, 13.5, 9.5, 6, 3.5, 1.5, 1, 0.5]
const sgTopKdeX = [-0.46, 1.54, 3.47, 5.01, 6.55, 8.09, 9.63, 11.18, 12.72, 14.26, 15.41, 16.57, 17.73, 18.88, 20.42, 21.97, 23.51, 25.05, 28.13, 33.33]
const sgTopKdeH = [1, 2, 5.5, 11, 20, 31, 41, 47, 50, 51, 50.5, 46, 34.5, 26, 17, 9.5, 5, 2.5, 1, 0.5]
const sgRightEdges = [39, 40, 41, 42, 43, 44, 45, 46, 47, 48, 49, 50, 51, 52, 53, 54, 55, 56, 57, 58, 59, 60, 61, 62, 63, 64, 65, 66]
const sgRightWidths = [0.2, 0.3, 0.4, 0.5, 0.7, 1, 1.5, 2, 2, 3, 4, 7, 12, 22, 34, 47, 66, 76.5, 65, 56.5, 37, 33, 26, 22, 18, 12, 3]
const sgRightKdeY = [36.3, 42.25, 45.76, 48.21, 50.31, 51.72, 52.77, 53.82, 54.87, 55.92, 56.45, 57.32, 58.02, 59.08, 60.13, 61.53, 62.93, 64.33, 65.74, 67.84]
const sgRightKdeW = [0, 0.5, 1.5, 3, 6.5, 14, 24, 39, 54, 66.5, 69, 61.5, 51.5, 39, 31.5, 25, 19, 11.5, 3, 0]

type PanelData = {
  title: string
  r: string
  p: string
  xRange: [number, number]
  yRange: [number, number]
  xTicks: number[]
  yTicks: number[]
  rows: Rows
  extra: [number, number][]
  regX: number[]
  regY: number[]
  ciLo: number[]
  ciHi: number[]
  topEdges: number[]
  topHeights: number[]
  topKdeX: number[]
  topKdeH: number[]
  rightEdges: number[]
  rightWidths: number[]
  rightKdeY: number[]
  rightKdeW: number[]
}

const panels: PanelData[] = [
  {
    title: "Constant probability", r: "r = -0.1252", p: "p = 2.6102E-06",
    xRange: [10.2, 47.8], yRange: [36.61, 68.29], xTicks: cpXTicks, yTicks: cpYTicks,
    rows: cpRows, extra: cpExtra, regX: cpRegX, regY: cpRegY, ciLo: cpCiLo, ciHi: cpCiHi,
    topEdges: cpTopEdges, topHeights: cpTopHeights, topKdeX: cpTopKdeX, topKdeH: cpTopKdeH,
    rightEdges: cpRightEdges, rightWidths: cpRightWidths, rightKdeY: cpRightKdeY, rightKdeW: cpRightKdeW,
  },
  {
    title: "Proportional Probability", r: "r = -0.1653", p: "p = 4.8823E-10",
    xRange: [15.07, 80], yRange: [39.73, 69.26], xTicks: ppXTicks, yTicks: ppYTicks,
    rows: ppRows, extra: ppExtra, regX: ppRegX, regY: ppRegY, ciLo: ppCiLo, ciHi: ppCiHi,
    topEdges: ppTopEdges, topHeights: ppTopHeights, topKdeX: ppTopKdeX, topKdeH: ppTopKdeH,
    rightEdges: ppRightEdges, rightWidths: ppRightWidths, rightKdeY: ppRightKdeY, rightKdeW: ppRightKdeW,
  },
  {
    title: "Oscillating probability", r: "r = -0.1180", p: "p = 9.5614E-06",
    xRange: [-11.38, 76.0], yRange: [46.14, 71.48], xTicks: opXTicks, yTicks: opYTicks,
    rows: opRows, extra: opExtra, regX: opRegX, regY: opRegY, ciLo: opCiLo, ciHi: opCiHi,
    topEdges: opTopEdges, topHeights: opTopHeights, topKdeX: opTopKdeX, topKdeH: opTopKdeH,
    rightEdges: opRightEdges, rightWidths: opRightWidths, rightKdeY: opRightKdeY, rightKdeW: opRightKdeW,
  },
  {
    title: "Preferential attachment", r: "r = -0.3357", p: "p = 3.1669E-38",
    xRange: [-0.77, 42.77], yRange: [40.97, 70.15], xTicks: paXTicks, yTicks: paYTicks,
    rows: paRows, extra: paExtra, regX: paRegX, regY: paRegY, ciLo: paCiLo, ciHi: paCiHi,
    topEdges: paTopEdges, topHeights: paTopHeights, topKdeX: paTopKdeX, topKdeH: paTopKdeH,
    rightEdges: paRightEdges, rightWidths: paRightWidths, rightKdeY: paRightKdeY, rightKdeW: paRightKdeW,
  },
  {
    title: "Random geometric", r: "r = -0.1319", p: "p = 7.2867E-07",
    xRange: [-4.91, 27.85], yRange: [48.69, 70.76], xTicks: rgXTicks, yTicks: rgYTicks,
    rows: rgRows, extra: rgExtra, regX: rgRegX, regY: rgRegY, ciLo: rgCiLo, ciHi: rgCiHi,
    topEdges: rgTopEdges, topHeights: rgTopHeights, topKdeX: rgTopKdeX, topKdeH: rgTopKdeH,
    rightEdges: rgRightEdges, rightWidths: rgRightWidths, rightKdeY: rgRightKdeY, rightKdeW: rgRightKdeW,
  },
  {
    title: "Spatial growth", r: "r = -0.2319", p: "p = 1.5207E-18",
    xRange: [-2.0, 34.97], yRange: [34.75, 69.52], xTicks: sgXTicks, yTicks: sgYTicks,
    rows: sgRows, extra: sgExtra, regX: sgRegX, regY: sgRegY, ciLo: sgCiLo, ciHi: sgCiHi,
    topEdges: sgTopEdges, topHeights: sgTopHeights, topKdeX: sgTopKdeX, topKdeH: sgTopKdeH,
    rightEdges: sgRightEdges, rightWidths: sgRightWidths, rightKdeY: sgRightKdeY, rightKdeW: sgRightKdeW,
  },
]

// page placement of each joint plot (main axes corner, title and stats text)
type PanelLayout = { left: number; top: number; titleX: number; titleBase: number; textDx: number; rDy: number; pDy: number }
const layouts: PanelLayout[] = [
  { left: 294, top: 175, titleX: 537, titleBase: 63.5, textDx: 35, rDy: 429.3, pDy: 466.7 },
  { left: 1188, top: 175, titleX: 1427.5, titleBase: 63.5, textDx: 64, rDy: 416.5, pDy: 453.8 },
  { left: 294, top: 985, titleX: 537, titleBase: 869.6, textDx: 50.5, rDy: 438.9, pDy: 477.7 },
  { left: 1188, top: 985, titleX: 1427.5, titleBase: 869.6, textDx: 29.4, rDy: 445.3, pDy: 482.6 },
  { left: 294, top: 1795, titleX: 537, titleBase: 1673.2, textDx: 41.5, rDy: 454.8, pDy: 493.6 },
  { left: 1188, top: 1795, titleX: 1427.5, titleBase: 1673.2, textDx: 38.3, rDy: 427.9, pDy: 466.7 },
]

const MAIN_W = 478
const MAIN_H = 493
const GAP = 16
const MARG = 85
const Y_AXIS_W = 140
const X_AXIS_H = 115
const PAD_TOP = 30
const PAD_RIGHT = 30

const labelFont = { family: "'DejaVu Sans', sans-serif", size: 33 }
const tickMarks = { display: true, drawOnChartArea: false, drawTicks: true, tickLength: 12, tickWidth: 2.3, tickColor: "#000", color: "#000" }
const spine = { display: true, color: "#000", width: 2.3 }

const fixedTicks = (values: number[]) => (scale: any) => {
  scale.ticks = values.map((value) => ({ value }))
}

// corners of a histogram outline: each bin gives its left and right corner at its height
const outline = (edges: number[], values: number[]) =>
  values.flatMap((v, i) => [[edges[i], v], [edges[i + 1], v]])

function mainConfig(d: PanelData, lay: PanelLayout): any {
  const points = [
    ...d.rows.flatMap(([ys, xs]) => ys.flatMap((y) => xs.map((x) => ({ x, y })))),
    ...d.extra.map(([x, y]) => ({ x, y })),
  ]
  const xy = (ys: number[]) => d.regX.map((x, i) => ({ x, y: ys[i] }))
  return {
    type: "scatter",
    data: {
      datasets: [
        {
          type: "line", data: xy(d.ciHi), borderWidth: 0, pointRadius: 0, fill: "+1",
          backgroundColor: BAND, cubicInterpolationMode: "monotone", order: 2, clip: 0,
        },
        {
          type: "line", data: xy(d.ciLo), borderWidth: 0, pointRadius: 0, fill: false,
          cubicInterpolationMode: "monotone", order: 2, clip: 0,
        },
        {
          type: "scatter", data: points, pointRadius: 10.3, pointBorderWidth: 2,
          pointBackgroundColor: POINT, pointBorderColor: POINT, order: 3, clip: 0,
        },
        {
          type: "line", data: xy(d.regY), borderColor: BLUE, borderWidth: 6.5, pointRadius: 0,
          fill: false, order: 1, clip: 0,
        },
      ],
    },
    options: {
      responsive: false,
      animation: false,
      events: [],
      layout: { padding: { left: 0, top: PAD_TOP, right: PAD_RIGHT, bottom: 0 } },
      plugins: { legend: { display: false }, tooltip: { enabled: false } },
      scales: {
        x: {
          type: "linear", min: d.xRange[0], max: d.xRange[1], offset: false,
          afterBuildTicks: fixedTicks(d.xTicks),
          afterFit: (s: any) => { s.height = X_AXIS_H },
          ticks: { font: labelFont, color: "#000", padding: 7, maxRotation: 0, autoSkip: false },
          grid: tickMarks,
          border: spine,
          title: { display: true, text: "Degree", font: labelFont, color: "#000", padding: { top: 0, bottom: 9.5 } },
        },
        y: {
          type: "linear", min: d.yRange[0], max: d.yRange[1],
          afterBuildTicks: fixedTicks(d.yTicks),
          afterFit: (s: any) => { s.width = Y_AXIS_W },
          ticks: { font: labelFont, color: "#000", padding: 14, autoSkip: false },
          grid: tickMarks,
          border: spine,
          title: {
            display: true, text: "Summed topological similarity", font: labelFont, color: "#000",
            padding: { top: 17.5, bottom: 0 },
          },
        },
      },
    },
    plugins: [
      {
        id: "statsText",
        afterDatasetsDraw(chart: any) {
          const { ctx, chartArea } = chart
          ctx.save()
          ctx.font = "33px 'DejaVu Sans'"
          ctx.fillStyle = "#000"
          ctx.textAlign = "left"
          ctx.textBaseline = "alphabetic"
          ctx.fillText(d.r, chartArea.left + lay.textDx, chartArea.top + lay.rDy)
          ctx.fillText(d.p, chartArea.left + lay.textDx, chartArea.top + lay.pDy)
          ctx.restore()
        },
      },
    ],
  }
}

const TOP_PAD = 67
const TOP_SIDE = 60
const TOP_AXIS_H = 14

function topConfig(d: PanelData, lay: PanelLayout): any {
  const hist = outline(d.topEdges, d.topHeights).map(([x, y]) => ({ x, y }))
  const kde = d.topKdeX.map((x, i) => ({ x, y: d.topKdeH[i] }))
  return {
    type: "scatter",
    data: {
      datasets: [
        {
          type: "line", data: hist, backgroundColor: HIST, borderWidth: 0, pointRadius: 0,
          fill: "origin", order: 2,
        },
        {
          type: "line", data: kde, borderColor: BLUE, borderWidth: 5, pointRadius: 0, fill: false,
          cubicInterpolationMode: "monotone", order: 1,
        },
      ],
    },
    options: {
      responsive: false,
      animation: false,
      events: [],
      layout: { padding: { left: TOP_SIDE, right: TOP_SIDE, top: TOP_PAD, bottom: 0 } },
      plugins: { legend: { display: false }, tooltip: { enabled: false } },
      scales: {
        x: {
          type: "linear", min: d.xRange[0], max: d.xRange[1], offset: false,
          afterBuildTicks: fixedTicks(d.xTicks),
          afterFit: (s: any) => { s.height = TOP_AXIS_H },
          ticks: { display: false },
          grid: tickMarks,
          border: spine,
        },
        y: { type: "linear", display: false, min: 0, max: MARG },
      },
    },
    plugins: [
      {
        id: "panelTitle",
        afterDraw(chart: any) {
          const ctx = chart.ctx
          ctx.save()
          ctx.font = "45px 'Open Sans'"
          ctx.fillStyle = "#000"
          ctx.textAlign = "center"
          ctx.textBaseline = "alphabetic"
          const ox = lay.left - TOP_SIDE
          const oy = lay.top - GAP - MARG - TOP_PAD
          ctx.fillText(d.title, lay.titleX - ox, lay.titleBase - oy)
          ctx.restore()
        },
      },
    ],
  }
}

const RIGHT_AXIS_W = 14

function rightConfig(d: PanelData): any {
  const hist = outline(d.rightEdges, d.rightWidths).map(([y, x]) => ({ x, y }))
  const kde = d.rightKdeY.map((y, i) => ({ x: d.rightKdeW[i], y }))
  return {
    type: "scatter",
    data: {
      datasets: [
        {
          type: "line", indexAxis: "y", data: hist, backgroundColor: HIST, borderWidth: 0, pointRadius: 0,
          fill: "origin", order: 2,
        },
        {
          type: "line", indexAxis: "y", data: kde, borderColor: BLUE, borderWidth: 5, pointRadius: 0,
          cubicInterpolationMode: "monotone", fill: false, order: 1,
        },
      ],
    },
    options: {
      responsive: false,
      animation: false,
      events: [],
      layout: { padding: 0 },
      plugins: { legend: { display: false }, tooltip: { enabled: false } },
      scales: {
        x: { type: "linear", display: false, min: 0, max: MARG },
        y: {
          type: "linear", position: "left", min: d.yRange[0], max: d.yRange[1],
          afterBuildTicks: fixedTicks(d.yTicks),
          afterFit: (s: any) => { s.width = RIGHT_AXIS_W },
          ticks: { display: false },
          grid: tickMarks,
          border: spine,
        },
      },
    },
  }
}

function JointPanel({ d, lay }: { d: PanelData; lay: PanelLayout }) {
  const mainRef = useRef<HTMLCanvasElement>(null)
  const topRef = useRef<HTMLCanvasElement>(null)
  const rightRef = useRef<HTMLCanvasElement>(null)

  useEffect(() => {
    const charts: Chart[] = []
    if (mainRef.current) charts.push(new Chart(mainRef.current, mainConfig(d, lay)))
    if (topRef.current) charts.push(new Chart(topRef.current, topConfig(d, lay)))
    if (rightRef.current) charts.push(new Chart(rightRef.current, rightConfig(d)))
    return () => {
      charts.forEach((c) => c.destroy())
    }
  }, [d, lay])

  const mainW = Y_AXIS_W + MAIN_W + PAD_RIGHT
  const mainH = PAD_TOP + MAIN_H + X_AXIS_H
  const topW = TOP_SIDE * 2 + MAIN_W
  const topH = TOP_PAD + MARG + TOP_AXIS_H
  const rightW = RIGHT_AXIS_W + MARG

  return (
    <>
      <canvas
        ref={topRef}
        width={topW}
        height={topH}
        style={{ position: "absolute", left: lay.left - TOP_SIDE, top: lay.top - GAP - MARG - TOP_PAD, width: topW, height: topH }}
      />
      <canvas
        ref={mainRef}
        width={mainW}
        height={mainH}
        style={{ position: "absolute", left: lay.left - Y_AXIS_W, top: lay.top - PAD_TOP, width: mainW, height: mainH }}
      />
      <canvas
        ref={rightRef}
        width={rightW}
        height={MAIN_H}
        style={{ position: "absolute", left: lay.left + MAIN_W + GAP - RIGHT_AXIS_W, top: lay.top, width: rightW, height: MAIN_H }}
      />
    </>
  )
}

export default function App() {
  return (
    <div style={{ position: "absolute", left: 0, top: 0, width: 1951, height: 2401, background: "#fff", overflow: "hidden" }}>
      {panels.map((d, i) => (
        <JointPanel key={d.title} d={d} lay={layouts[i]} />
      ))}
    </div>
  )
}
